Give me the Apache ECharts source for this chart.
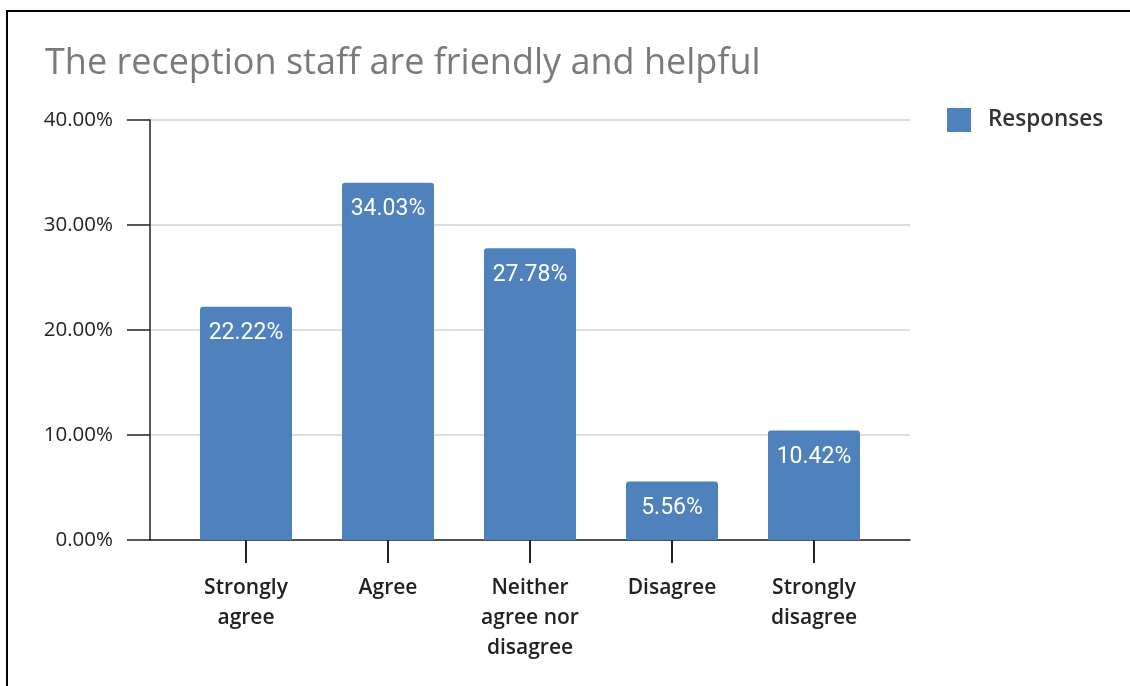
<!DOCTYPE html>
<html>
<head>
<meta charset="utf-8">
<script src="https://cdn.jsdelivr.net/npm/echarts@6/dist/echarts.min.js"></script>
<style>
html,body{margin:0;padding:0;background:#fff;overflow:hidden;}
#frame{position:absolute;left:6px;top:10px;width:2000px;height:2000px;border:2px solid #000;box-sizing:border-box;}
#chart{position:absolute;left:0;top:0;width:1130px;height:686px;}
</style>
</head>
<body>
<div id="frame"></div>
<div id="chart"></div>
<script>
const titleText = 'The reception staff are friendly and helpful';
const categories = ['Strongly\nagree', 'Agree', 'Neither\nagree nor\ndisagree', 'Disagree', 'Strongly\ndisagree'];
const seriesName = 'Responses';
const values = [22.22, 34.03, 27.78, 5.56, 10.42];
const yTicks = [0, 10, 20, 30, 40];

const chart = echarts.init(document.getElementById('chart'), null, {renderer: 'canvas'});
const option = {
  backgroundColor: 'transparent',
  animation: false,
  title: {
    text: titleText,
    left: 40, top: 41,
    textStyle: {fontFamily: 'Open Sans', fontSize: 36, fontWeight: 'normal', color: '#7a7a7a'}
  },
  legend: {
    data: [seriesName],
    left: 942, top: 103,
    icon: 'rect',
    itemWidth: 24, itemHeight: 24,
    textStyle: {fontFamily: 'Open Sans', fontSize: 22.5, fontWeight: 600, color: '#333', padding: [0,0,0,12]}
  },
  grid: [
    {left: 150, top: 120, width: 760, height: 420},
    {left: 175, top: 120, width: 710, height: 420}
  ],
  xAxis: [
    {gridIndex: 0, type: 'value', min: 0, max: 1, axisLabel: {show: false}, axisTick: {show: false}, splitLine: {show: false},
     axisLine: {show: true, lineStyle: {color: '#222', width: 1.5}}},
    {gridIndex: 1, type: 'category', data: categories, axisLine: {show: false},
     axisTick: {show: true, alignWithLabel: true, length: 23, lineStyle: {color: '#222', width: 2}},
     axisLabel: {margin: 33, fontFamily: 'Open Sans', fontSize: 21, fontWeight: 600, color: '#222', lineHeight: 30, interval: 0}}
  ],
  yAxis: [
    {gridIndex: 0, type: 'value', min: yTicks[0], max: yTicks[yTicks.length-1], interval: 10,
     axisLine: {show: true, lineStyle: {color: '#222', width: 1.5}},
     axisTick: {show: true, length: 23, lineStyle: {color: '#222', width: 1.5}},
     axisLabel: {margin: 37, fontFamily: 'Open Sans', fontSize: 20.5, color: '#222', formatter: v => v.toFixed(2) + '%'},
     splitLine: {show: true, lineStyle: {color: '#d3d3d3', width: 1.5}}},
    {gridIndex: 1, type: 'value', min: 0, max: 40, show: false}
  ],
  series: [{
    name: seriesName,
    type: 'bar',
    xAxisIndex: 1, yAxisIndex: 1,
    data: values,
    barWidth: 92,
    itemStyle: {color: '#4f81bd', borderRadius: [3,3,0,0]},
    label: {show: true, position: 'insideTop', distance: 15, color: '#fff', fontFamily: 'Roboto', fontSize: 23,
      formatter: p => p.value.toFixed(2) + '%'}
  }]
};
chart.setOption(option);
</script>
</body>
</html>
